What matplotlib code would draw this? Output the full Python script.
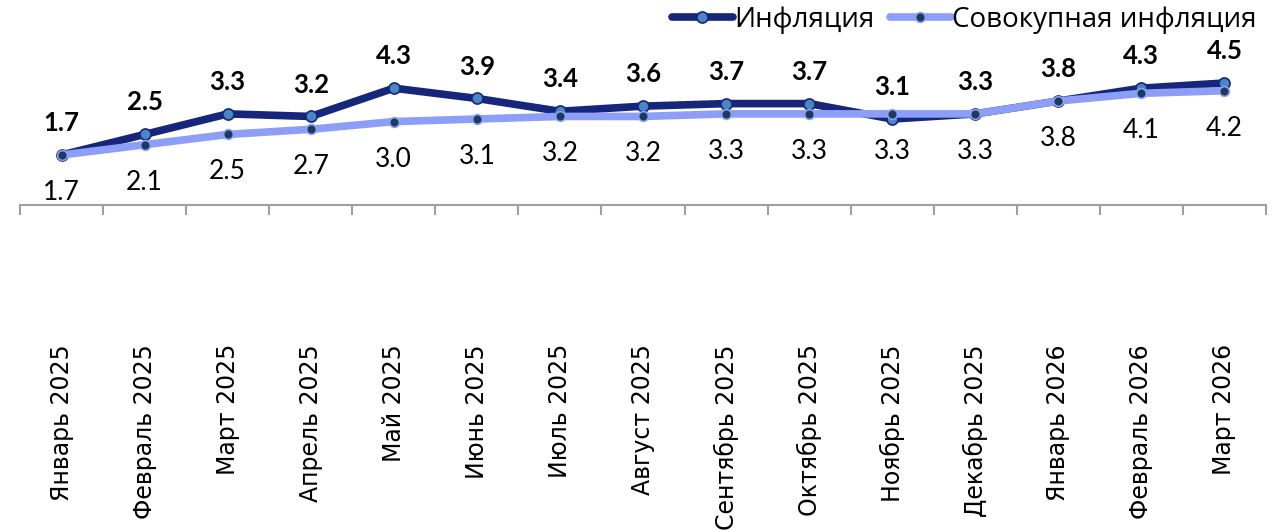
import matplotlib
matplotlib.use('Agg')
import matplotlib.pyplot as plt
import numpy as np

# Data
months = ['Январь 2025', 'Февраль 2025', 'Март 2025', 'Апрель 2025', 'Май 2025',
          'Июнь 2025', 'Июль 2025', 'Август 2025', 'Сентябрь 2025', 'Октябрь 2025',
          'Ноябрь 2025', 'Декабрь 2025', 'Январь 2026', 'Февраль 2026', 'Март 2026']
inflation = [1.7, 2.5, 3.3, 3.2, 4.3, 3.9, 3.4, 3.6, 3.7, 3.7, 3.1, 3.3, 3.8, 4.3, 4.5]
total_inflation = [1.7, 2.1, 2.5, 2.7, 3.0, 3.1, 3.2, 3.2, 3.3, 3.3, 3.3, 3.3, 3.8, 4.1, 4.2]

# Colours
dark_line = '#16267a'
dark_face = '#4a86c4'
light_line = '#8c9ef7'
light_face = '#1b3a5c'

W, H = 1281, 532
fig = plt.figure(figsize=(W / 100, H / 100), dpi=100)
ax = fig.add_axes([20 / W, 1 - 205 / H, (1266 - 20) / W, 205 / H])

x = np.arange(len(months))
ax.plot(x, total_inflation, color=light_line, linewidth=5.5, marker='o', markersize=7,
        markerfacecolor=light_face, markeredgecolor=light_line, markeredgewidth=1.2,
        solid_capstyle='round', label='Совокупная инфляция', zorder=2)
ax.plot(x, inflation, color=dark_line, linewidth=5.5, marker='o', markersize=8,
        markerfacecolor=dark_face, markeredgecolor=dark_line, markeredgewidth=1.2,
        solid_capstyle='round', label='Инфляция', zorder=1)

# Data labels
for xi, v in zip(x, inflation):
    ax.annotate(f'{v:.1f}', (xi, v), xytext=(0, 23), textcoords='offset points',
                ha='center', va='center', fontsize=18.5, fontweight='bold',
                family='Lato', color='black', annotation_clip=False)
for xi, v in zip(x, total_inflation):
    ax.annotate(f'{v:.1f}', (xi, v), xytext=(0, -27), textcoords='offset points',
                ha='center', va='center', fontsize=19, family='Lato',
                color='black', annotation_clip=False)

ax.set_xlim(-0.5, len(months) - 0.5)
ax.set_ylim(-0.245, 7.73)

for s in ['top', 'right', 'left']:
    ax.spines[s].set_visible(False)
ax.spines['bottom'].set_color('#a0a0a0')
ax.spines['bottom'].set_linewidth(1.5)
ax.set_yticks([])

# Ticks between categories, labels at centres
ax.set_xticks(np.arange(-0.5, len(months), 1.0))
ax.set_xticklabels([])
ax.tick_params(axis='x', length=7, width=1.5, color='#a0a0a0', direction='out')
for xi, m in zip(x, months):
    ax.text(xi, -0.245 - 139 / 25.7, m, rotation=90, ha='center', va='top',
            fontsize=17, family=['Liberation Sans Narrow', 'DejaVu Sans'],
            clip_on=False)

# Legend
handles, labels = ax.get_legend_handles_labels()
leg = fig.legend(handles[::-1], labels[::-1], loc='upper right', bbox_to_anchor=(1268 / W, 1.01),
                 ncol=2, frameon=False, handlelength=2.2, handletextpad=0.05,
                 columnspacing=0.55, prop={'family': 'Open Sans', 'size': 20}, borderaxespad=0.0)

fig.savefig('out.png', dpi=100)
